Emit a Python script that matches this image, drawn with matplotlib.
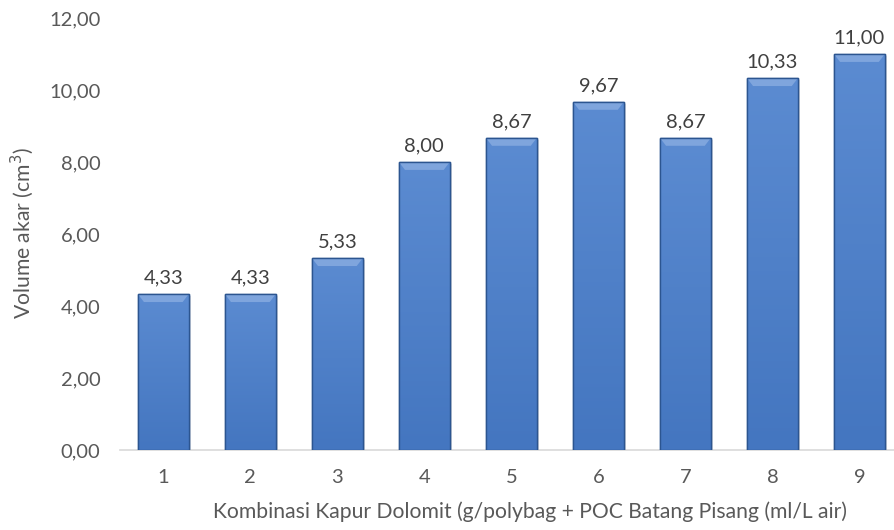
import numpy as np
import matplotlib.pyplot as plt
from matplotlib.patches import Polygon, Rectangle
from matplotlib.colors import LinearSegmentedColormap

plt.rcParams['font.family'] = ['Lato', 'DejaVu Sans']

# datos
kombinasi = ['1', '2', '3', '4', '5', '6', '7', '8', '9']
volume = [4.33, 4.33, 5.33, 8.00, 8.67, 9.67, 8.67, 10.33, 11.00]
yticks = [0, 2, 4, 6, 8, 10, 12]

fig = plt.figure(figsize=(8.94, 5.30), dpi=100)
ax = fig.add_axes([0.134, 0.151, 0.876, 0.815])

x = np.arange(1, len(volume) + 1)
ancho = 0.585
fs = 14.5

# sombra
for xi, v in zip(x, volume):
    ax.add_patch(Rectangle((xi - ancho/2 + 0.03, 0), ancho, v - 0.06,
                           facecolor='#c8c8c8', edgecolor='none', alpha=0.5, zorder=1))

barras = ax.bar(x, volume, width=ancho, color='#4a7cc4', edgecolor='#2c5590',
                linewidth=1.0, zorder=2)

# degradado dentro de cada barra
grad = np.linspace(0, 1, 100).reshape(-1, 1)
cmap_az = LinearSegmentedColormap.from_list('az', ['#4476c0', '#5b8bd1'])
for b in barras:
    x0, w, h = b.get_x(), b.get_width(), b.get_height()
    im = ax.imshow(grad, extent=[x0, x0 + w, 0, h], origin='lower', aspect='auto',
                   cmap=cmap_az, zorder=3)
    im.set_clip_path(b)
    # bisel superior
    bis = 0.22
    dx = 0.07
    ax.add_patch(Polygon([[x0, h], [x0 + w, h], [x0 + w - dx, h - bis], [x0 + dx, h - bis]],
                         closed=True, facecolor='#7fa5dd', edgecolor='none', zorder=4))
    ax.add_patch(Rectangle((x0, 0), w, h, facecolor='none', edgecolor='#2c5590',
                           linewidth=1.0, zorder=5))

for xi, v in zip(x, volume):
    ax.text(xi, v + 0.22, f'{v:.2f}'.replace('.', ','), ha='center', va='bottom',
            fontsize=fs, color='#404040')

ax.set_xlim(0.5, 9.5)
ax.set_ylim(0, 12)
ax.set_xticks(x)
ax.set_xticklabels(kombinasi)
ax.set_yticks(yticks)
ax.set_yticklabels([f'{t:.2f}'.replace('.', ',') for t in yticks])
ax.tick_params(axis='both', length=0, labelsize=fs, colors='#595959')
ax.tick_params(axis='x', pad=14)
ax.tick_params(axis='y', pad=14)

for s in ['top', 'right', 'left']:
    ax.spines[s].set_visible(False)
ax.spines['bottom'].set_color('#d9d9d9')
ax.spines['bottom'].set_linewidth(1.2)
ax.spines['bottom'].set_zorder(0)

fig.text(0.025, 1 - 233/530, 'Volume akar (cm$^3$)', rotation=90, ha='center', va='center',
         fontsize=15.2, color='#595959')
fig.text(530/894, 1 - 512/530, 'Kombinasi Kapur Dolomit (g/polybag + POC Batang Pisang (ml/L air)',
         ha='center', va='center', fontsize=15.2, color='#595959')

fig.savefig('out.png', dpi=100)
